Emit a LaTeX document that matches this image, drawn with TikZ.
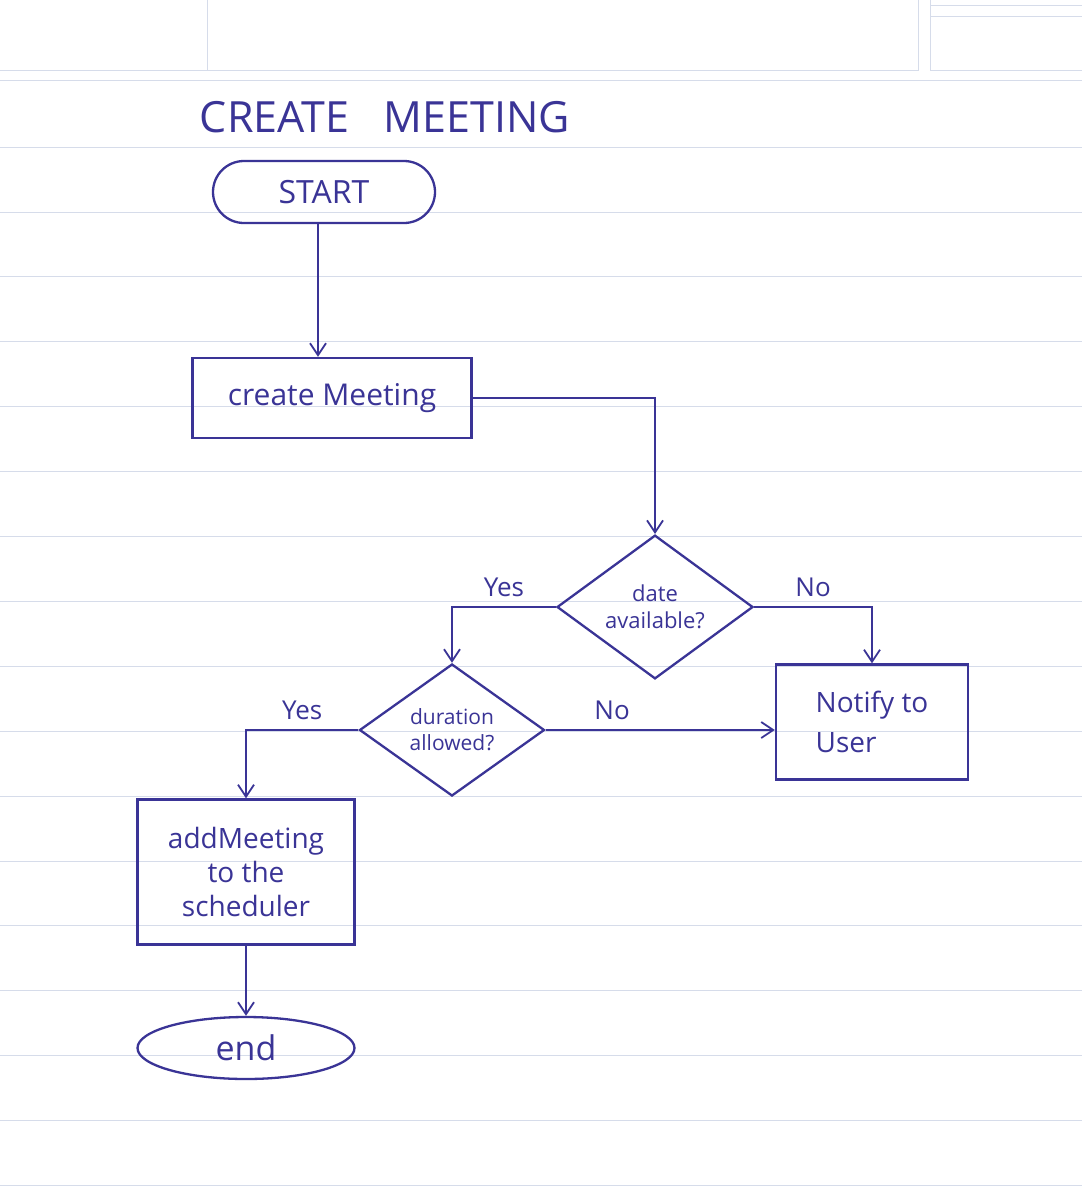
\documentclass[tikz,border=0pt]{standalone}
\usepackage{fontspec}
\setmainfont{Open Sans}
\usetikzlibrary{arrows.meta,shapes.geometric}
\definecolor{ink}{RGB}{58,52,150}
\definecolor{paper}{RGB}{214,220,234}
\tikzset{
  every node/.style={text=ink},
  ln/.style={draw=ink, line width=2.3pt},
  arr/.style={ln, -{Straight Barb[length=12pt,width=16pt,line width=1.8pt]}},
  boxnode/.style={ln, rectangle, align=center, inner sep=2pt},
  termnode/.style={ln, rectangle, rounded corners=31pt, align=center},
  endnode/.style={ln, ellipse, align=center, inner sep=0pt},
  decnode/.style={ln, diamond, align=center, inner sep=0pt},
  lbl/.style={font=\fontsize{26}{30}\selectfont}
}
\begin{document}
\begin{tikzpicture}[x=1pt,y=-1pt]
\useasboundingbox (0,0) rectangle (1082,1203);
\fill[white] (0,0) rectangle (1082,1203);
% lined paper
\draw[paper, line width=0.8pt] (0,70) -- (207,70) (207,0) -- (207,70) -- (918,70) -- (918,0)
  (930,0) -- (930,70) -- (1082,70) (930,16) -- (1082,16) (930,5) -- (1082,5);
\draw[paper, line width=0.8pt] (0,80) -- (1082,80);
\foreach \k in {0,...,16} {
  \draw[paper, line width=0.8pt] (0,{147+64.9*\k}) -- (1082,{147+64.9*\k});
}
% title
\node[font=\fontsize{43}{47}\selectfont] (title) at (385,117) {CREATE\hspace{0.8em}MEETING};
% nodes
\node[termnode, minimum width=222pt, minimum height=62pt, font=\fontsize{32}{36}\selectfont] (start) at (324,192) {START};
\node[boxnode, minimum width=279pt, minimum height=80pt, font=\fontsize{30}{34}\selectfont] (create) at (332,398) {create Meeting};
\node[decnode, minimum width=196pt, minimum height=123pt, font=\fontsize{22}{27}\selectfont] (d1) at (655,607) {date\\available?};
\node[boxnode, minimum width=192pt, minimum height=115pt, align=left, font=\fontsize{28}{40}\selectfont] (notify) at (872,722) {Notify to\\User};
\node[decnode, minimum width=185pt, minimum height=132pt, font=\fontsize{21}{26}\selectfont] (d2) at (452,730) {duration\\allowed?};
\node[boxnode, minimum width=217pt, minimum height=145pt, font=\fontsize{28}{34}\selectfont] (add) at (246,872) {addMeeting\\to the\\scheduler};
\node[endnode, minimum width=217pt, minimum height=62pt, font=\fontsize{34}{38}\selectfont] (end) at (246,1048) {end};
% connectors
\draw[arr] (start.south -| 318,0) -- (318,0 |- create.north);
\draw[arr] (create.east) -| (d1.north);
\draw[arr] (d1.west) -| (d2.north) node[lbl, pos=0.25, above=6pt] {Yes};
\draw[arr] (d1.east) -| (notify.north) node[lbl, pos=0.25, above=6pt] {No};
\draw[arr] (d2.east) -- (d2.east -| notify.west) node[lbl, pos=0.29, above=6pt] {No};
\draw[arr] (d2.west) -| (add.north) node[lbl, pos=0.25, above=6pt] {Yes};
\draw[arr] (add.south) -- (end.north);
\end{tikzpicture}
\end{document}
